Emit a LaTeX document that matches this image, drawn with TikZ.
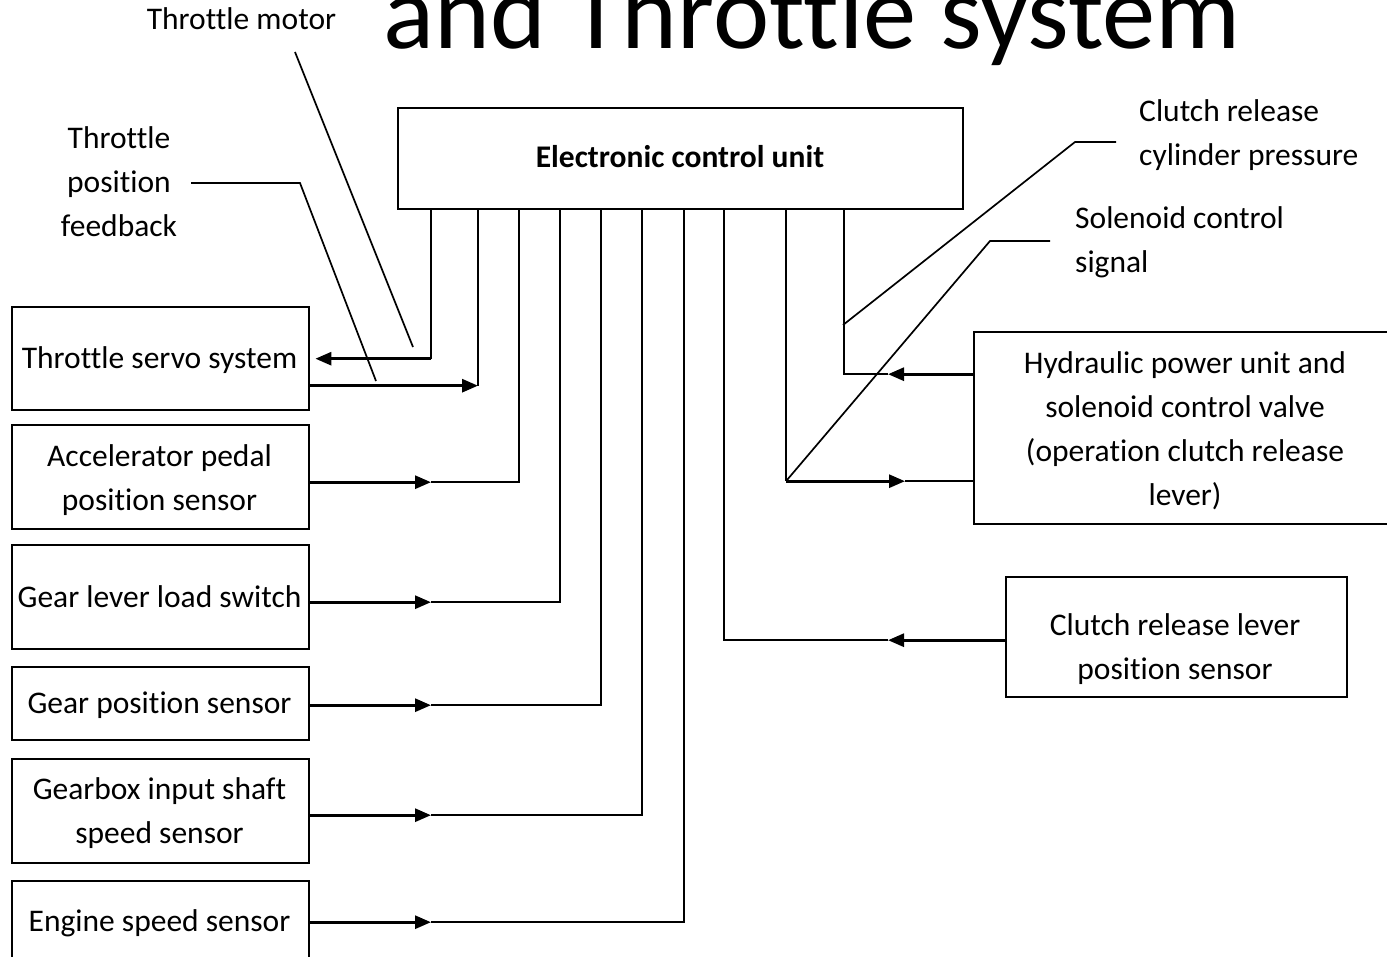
\documentclass[tikz,border=0pt]{standalone}
\usepackage{fontspec}
\setmainfont{Carlito}[Ligatures=NoCommon]
\usetikzlibrary{arrows.meta,calc}

\begin{document}
\begin{tikzpicture}[x=1pt,y=-1pt,
  box/.style={draw,line width=2.4pt,anchor=north west,inner sep=0pt},
  lbl/.style={font=\fontsize{31.5}{44}\selectfont,inner sep=0pt,anchor=base,align=center},
  wire/.style={line width=1.9pt},
  feed/.style={line width=2.9pt,-{Triangle[length=16pt,width=13pt]}},
  lead/.style={line width=1.7pt},
]
\useasboundingbox (0,0) rectangle (1387,957);
\clip (0,0) rectangle (1387,957);

% title
\node[inner sep=0pt,anchor=base west,font=\fontsize{106.5}{120}\selectfont] (title) at (383,49) {and Throttle system};

% control unit
\node[box,minimum width=565pt,minimum height=101pt] (ecu) at (397,107) {};
\node[lbl,font=\fontsize{31.5}{44}\selectfont\bfseries] (ecuT) at (680,168) {Electronic control unit};

% left column: servo and sensors
\node[box,minimum width=297pt,minimum height=103pt] (servo) at (11,306) {};
\node[box,minimum width=297pt,minimum height=104pt] (accel) at (11,424) {};
\node[box,minimum width=297pt,minimum height=104pt] (lever) at (11,544) {};
\node[box,minimum width=297pt,minimum height=73pt]  (gpos)  at (11,666) {};
\node[box,minimum width=297pt,minimum height=104pt] (gbox)  at (11,758) {};
\node[box,minimum width=297pt,minimum height=85pt]  (eng)   at (11,880) {};

% (multi-line texts are placed by the baseline of their last line)
\node[lbl] (servoT) at (159.5,369) {Throttle servo system};
\node[lbl] (accelT) at (159.5,510) {Accelerator pedal\\position sensor};
\node[lbl] (leverT) at (159.5,607) {Gear lever load switch};
\node[lbl] (gposT)  at (159.5,713) {Gear position sensor};
\node[lbl] (gboxT)  at (159.5,843) {Gearbox input shaft\\speed sensor};
\node[lbl] (engT)   at (159.5,931) {Engine speed sensor};

% right column: actuator and clutch sensor
\node[box,minimum width=420pt,minimum height=192pt] (hyd) at (973,331) {};
\node[box,minimum width=341pt,minimum height=120pt] (crs) at (1005,576) {};
\node[lbl] (hydT) at (1185,505) {Hydraulic power unit and\\solenoid control valve\\(operation clutch release\\lever)};
\node[lbl] (crsT) at (1175,679) {Clutch release lever\\position sensor};

% signal labels
\node[lbl] (motorT) at (241.5,30) {Throttle motor};
\node[lbl] (fbT) at (119,237) {Throttle\\position\\feedback};
\node[lbl,anchor=base west,align=left] (cpT) at (1139,166) {Clutch release\\cylinder pressure};
\node[lbl,anchor=base west,align=left] (solT) at (1075,273) {Solenoid control\\signal};

% taps on the bottom edge of the control unit
\foreach \n/\dx in {a/34,b/81,c/122,d/163,e/204,f/245,g/287,h/327,i/389,j/447}
  \coordinate (tap\n) at ([xshift=\dx]ecu.south west);

% throttle servo: motor drive out, position feedback in
\draw[wire] (tapa) -- (tapa |- servo.east);
\draw[feed] (tapa |- servo.east) -- ([xshift=5]servo.east);
\coordinate (servoOut) at ([yshift=-27]servo.east);
\draw[wire] (tapb) -- (tapb |- servoOut);
\draw[feed] (servoOut) -- (tapb |- servoOut);

% sensor inputs on the left
\foreach \b/\t/\dy in {accel/c/-5,lever/d/-5,gpos/e/-1.5,gbox/f/-4,eng/g/1.5}{
  \coordinate (\b Out) at ([yshift=\dy]\b.east);
  \draw[feed] (\b Out) -- (\b Out -| tapa);
  \draw[wire] (\b Out -| tapa) -| (tap\t);
}

% clutch release lever position sensor
\coordinate (crsOut) at ([yshift=-3]crs.west);
\draw[feed] (crsOut) -- ([xshift=-117]crsOut);
\draw[wire] ([xshift=-117]crsOut) -| (taph);

% hydraulic unit: pressure in, solenoid drive out
\coordinate (hydOut) at ([yshift=54]hyd.west);
\draw[feed] (hydOut) -- ([xshift=-85]hydOut);
\draw[wire] ([xshift=-85]hydOut) -| (tapj);
\coordinate (hydIn) at ([yshift=-53]hyd.west);
\draw[wire] (tapi) -- (tapi |- hydIn);
\draw[feed] (tapi |- hydIn) -- ([xshift=119]tapi |- hydIn);
\draw[wire] ([xshift=119]tapi |- hydIn) -- (hydIn);

% leader lines from the signal labels
\coordinate (mA) at (295,52);   \coordinate (mB) at (413,347);
\draw[lead] (mA) -- (mB);
\coordinate (fA) at (191,183);  \coordinate (fK) at (300,183);  \coordinate (fB) at (376,381);
\draw[lead] (fA) -- (fK) -- (fB);
\coordinate (cA) at (1116,142); \coordinate (cK) at (1075,142); \coordinate (cB) at (843,325);
\draw[lead] (cA) -- (cK) -- (cB);
\coordinate (sA) at (1050,241); \coordinate (sK) at (990,241);  \coordinate (sB) at (787,480);
\draw[lead] (sA) -- (sK) -- (sB);
\end{tikzpicture}
\end{document}
